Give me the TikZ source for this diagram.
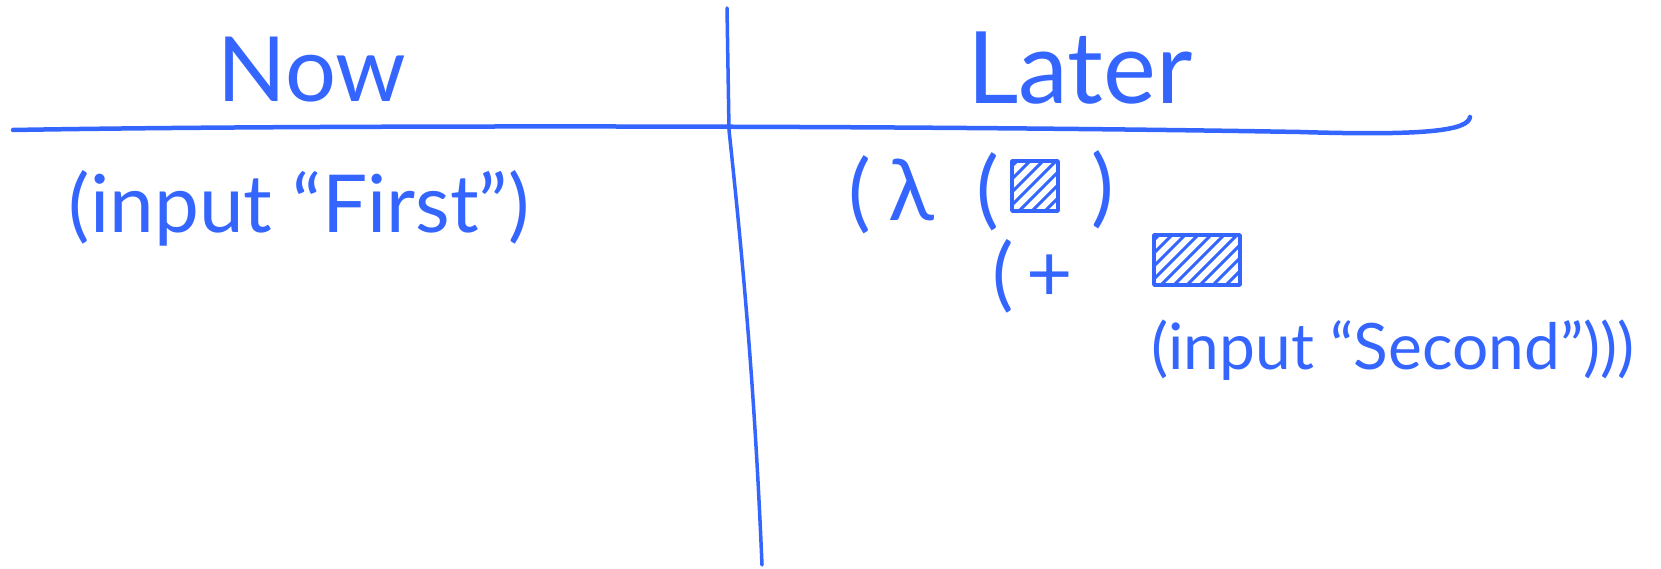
\documentclass[tikz,border=0pt]{standalone}
\usepackage{fontspec}
\setmainfont{Lato}
\definecolor{ink}{RGB}{52,102,255}
\tikzset{
  hand/.style={text=ink, inner sep=0pt, font=\fontsize{#1}{#1}\selectfont},
  rule/.style={draw=ink, line width=#1, line cap=round, line join=round},
  hole/.style={draw=ink, line width=3.5pt, line join=round, minimum width=#1, inner sep=0pt,
    path picture={\foreach \k in {0,...,9}
      \draw[ink, line width=3pt, line cap=round] ([xshift=\k*13pt-45pt]path picture bounding box.south west) -- ++(60pt,60pt);}}
}
\begin{document}
\begin{tikzpicture}[x=1pt,y=-1pt]
\useasboundingbox (0,0) rectangle (1661,569);
% table rules
\draw[rule=4.5pt] (13,130) .. controls (300,125) and (900,125) .. (1300,132) .. controls (1430,136) and (1468,130) .. (1470,117);
\draw[rule=3.5pt] (727,8) -- (729,130) .. controls (745,280) and (755,400) .. (762,565);
% headings
\node[hand=90] (now) at (312,70) {Now};
\node[hand=100] (later) at (1080,68) {Later};
% now column
\node[hand=80] (first) at (299,208) {(input “First”)};
% later column
\node[hand=85] (p1) at (860,195) {(};
\node[hand=85] (lam) at (911,190) {λ};
\node[hand=85] (p2) at (988,192) {(};
\node[hole=46pt, minimum height=50pt] (box1) at (1035,186) {};
\node[hand=85] (p3) at (1103,190) {)};
\node[hand=80] (p4) at (1003,276) {(};
\node[hand=80] (plus) at (1050,278) {+};
\node[hole=86pt, minimum height=50pt] (box2) at (1197,260) {};
\node[hand=64] (second) at (1393,350) {(input “Second”)))};
\end{tikzpicture}
\end{document}
